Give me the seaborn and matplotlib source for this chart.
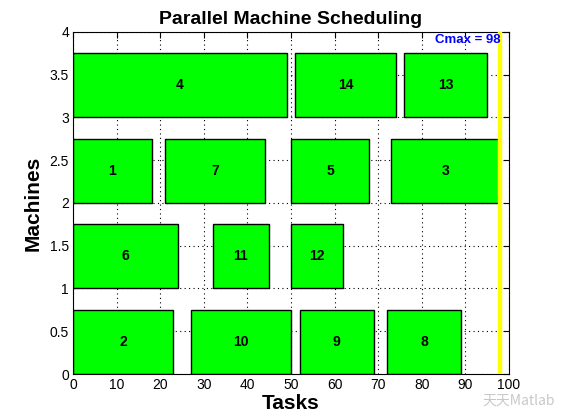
import matplotlib
matplotlib.use("Agg")
import matplotlib.pyplot as plt
import seaborn as sns
import pandas as pd

# Schedule: one row per task
task_ids = [2, 10, 9, 8, 6, 11, 12, 1, 7, 5, 3, 4, 14, 13]
machines = [1, 1, 1, 1, 2, 2, 2, 3, 3, 3, 3, 4, 4, 4]
starts = [0, 27, 52, 72, 0, 32, 50, 0, 21, 50, 73, 0, 51, 76]
ends = [23, 50, 69, 89, 24, 45, 62, 18, 44, 68, 98, 49, 74, 95]
cmax = 98

x_ticks = [0, 10, 20, 30, 40, 50, 60, 70, 80, 90, 100]
y_ticks = [0, 0.5, 1, 1.5, 2, 2.5, 3, 3.5, 4]

df = pd.DataFrame({"task": task_ids, "machine": machines,
                   "start": starts, "end": ends})
df["duration"] = df["end"] - df["start"]

sns.set_style("white")
plt.rcParams["font.family"] = ["Liberation Sans", "DejaVu Sans"]
plt.rcParams["text.color"] = "black"
plt.rcParams["axes.labelcolor"] = "black"

fig = plt.figure(figsize=(5.61, 4.20), dpi=100)
ax = fig.add_axes([0.1305, 0.1095, 0.7765, 0.8145])

bar_h = 0.75
ax.barh(df["machine"] - 1, df["duration"], left=df["start"], height=bar_h,
        align="edge", color="#00ff00", edgecolor="black", linewidth=1.0,
        zorder=2)

for _, r in df.iterrows():
    ax.text(r["start"] + r["duration"] / 2, r["machine"] - 1 + bar_h / 2,
            str(r["task"]), ha="center", va="center", fontsize=10,
            fontweight="bold", color="black", zorder=3)

ax.axvline(cmax, color="#ffff00", linewidth=3.2, zorder=4)
ax.text(cmax, 3.9, f"Cmax = {cmax}", ha="right", va="center",
        color="#0000ff", fontsize=9.5, fontweight="bold", zorder=5)

ax.set_xlim(0, 100)
ax.set_ylim(0, 4)
ax.set_xticks(x_ticks)
ax.set_yticks(y_ticks)
ax.set_yticklabels(["0", "0.5", "1", "1.5", "2", "2.5", "3", "3.5", "4"])
ax.tick_params(direction="in", top=True, right=True, length=4,
               labelsize=10, colors="black", pad=3)
ax.grid(True, color="black", linestyle=(0, (1, 3)), linewidth=0.8, zorder=0)
ax.set_axisbelow(True)
for s in ax.spines.values():
    s.set_color("black")
    s.set_linewidth(0.8)

ax.set_title("Parallel Machine Scheduling", fontsize=14, fontweight="bold",
             color="black", pad=6)
ax.set_xlabel("Tasks", fontsize=15, fontweight="bold", labelpad=1)
ax.set_ylabel("Machines", fontsize=15, fontweight="bold", labelpad=5)

fig.text(0.99, 0.045, "天天Matlab", ha="right", va="center", fontsize=10,
         color="#c8c8c8", family=["Noto Sans CJK SC", "DejaVu Sans"])

fig.savefig("out.png", dpi=100, facecolor="white")
